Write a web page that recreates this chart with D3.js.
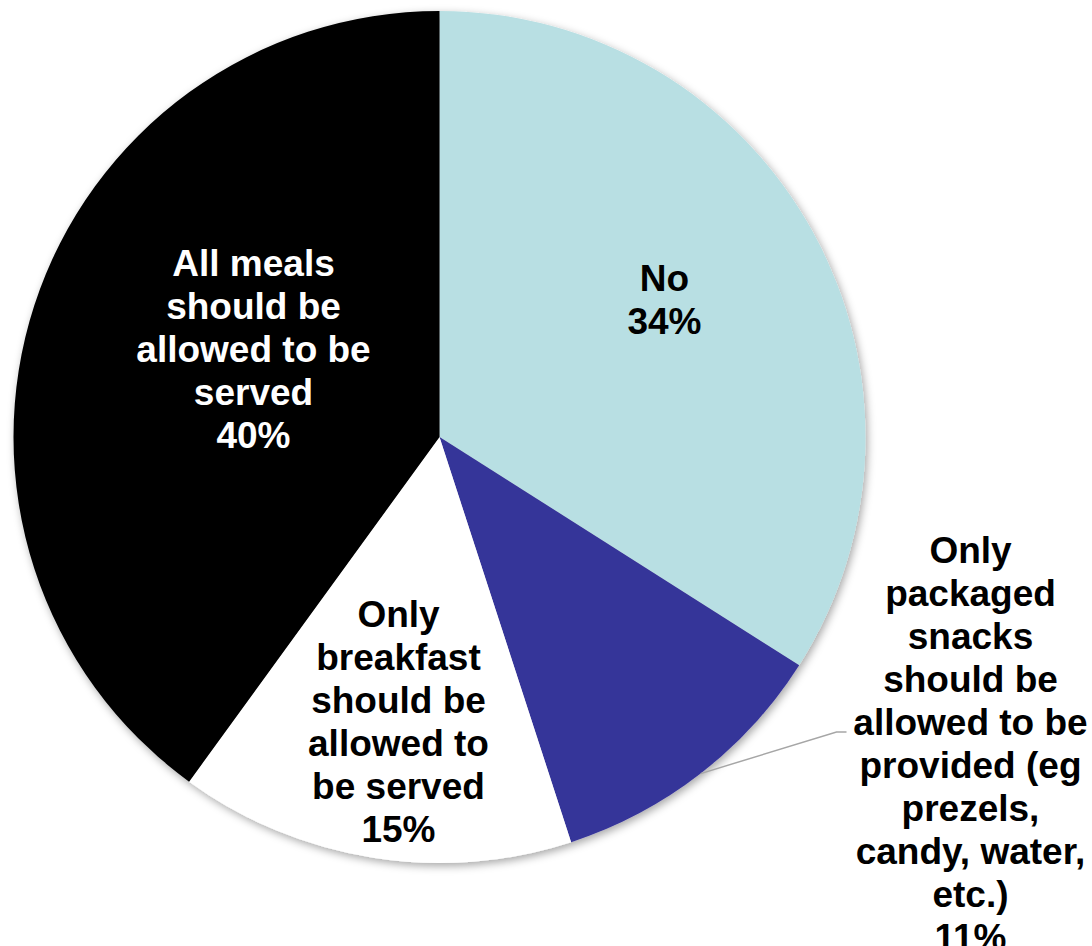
<!DOCTYPE html>
<html>
<head>
<meta charset="utf-8">
<script src="https://cdn.jsdelivr.net/npm/d3@7"></script>
<style>
  html, body { margin: 0; padding: 0; background: #ffffff; }
  svg { display: block; }
</style>
</head>
<body>
<svg id="chart" width="1092" height="946"></svg>
<script>
// Survey answers, clockwise from 12 o'clock
const categories = [
  "No",
  "Only packaged snacks should be allowed to be provided (eg prezels, candy, water, etc.)",
  "Only breakfast should be allowed to be served",
  "All meals should be allowed to be served"
];
const values = [34, 11, 15, 40];
const labelLines = [
  ["No"],
  ["Only", "packaged", "snacks", "should be", "allowed to be", "provided (eg", "prezels,", "candy, water,", "etc.)"],
  ["Only", "breakfast", "should be", "allowed to", "be served"],
  ["All meals", "should be", "allowed to be", "served"]
];
const colors = ["#b8dfe3", "#363499", "#ffffff", "#000000"];
const textColors = ["#000000", "#000000", "#000000", "#ffffff"];

const width = 1092, height = 946;
const cx = 439.5, cy = 437, radius = 426;
const fontSize = 37, lineHeight = 43;

const svg = d3.select("#chart");

// soft shadow under the pie
const defs = svg.append("defs");
const f = defs.append("filter").attr("id", "pieShadow")
  .attr("x", "-10%").attr("y", "-10%").attr("width", "120%").attr("height", "120%");
f.append("feDropShadow")
  .attr("dx", 2).attr("dy", 3).attr("stdDeviation", 4)
  .attr("flood-color", "#000").attr("flood-opacity", 0.35);

const pie = d3.pie().sort(null).value(d => d.value);
const data = categories.map((c, i) => ({ name: c, value: values[i], i }));
const arcs = pie(data);

const arc = d3.arc().innerRadius(0).outerRadius(radius);

const g = svg.append("g").attr("transform", `translate(${cx},${cy})`);

g.append("g").attr("filter", "url(#pieShadow)")
  .selectAll("path")
  .data(arcs)
  .join("path")
  .attr("d", arc)
  .attr("fill", d => colors[d.data.i]);

// label anchor points (centre x, first baseline), relative to the pie centre
const labelPos = [
  { x: 225, y: -146 },
  { x: 531, y: 126 },
  { x: -41, y: 190 },
  { x: -186, y: -161 }
];

const fmt = d3.format(".0f");

arcs.forEach(a => {
  const i = a.data.i;
  const lines = labelLines[i].concat([fmt(a.data.value) + "%"]);
  const t = g.append("text")
    .attr("text-anchor", "middle")
    .attr("font-family", "'Liberation Sans', Arial, sans-serif")
    .attr("font-weight", "bold")
    .attr("font-size", fontSize)
    .attr("fill", textColors[i]);
  lines.forEach((ln, k) => {
    t.append("tspan")
      .attr("x", labelPos[i].x)
      .attr("y", labelPos[i].y + k * lineHeight)
      .text(ln);
  });
});

// leader line for the small outside label
const snack = arcs[1];
const mid = (snack.startAngle + snack.endAngle) / 2;
const p0 = [Math.sin(mid) * radius, -Math.cos(mid) * radius];
const p1 = [397, 295];
const p2 = [407, 295];
g.append("polyline")
  .attr("points", [p0, p1, p2].map(p => p.join(",")).join(" "))
  .attr("fill", "none")
  .attr("stroke", "#a6a6a6")
  .attr("stroke-width", 1.5);
</script>
</body>
</html>
